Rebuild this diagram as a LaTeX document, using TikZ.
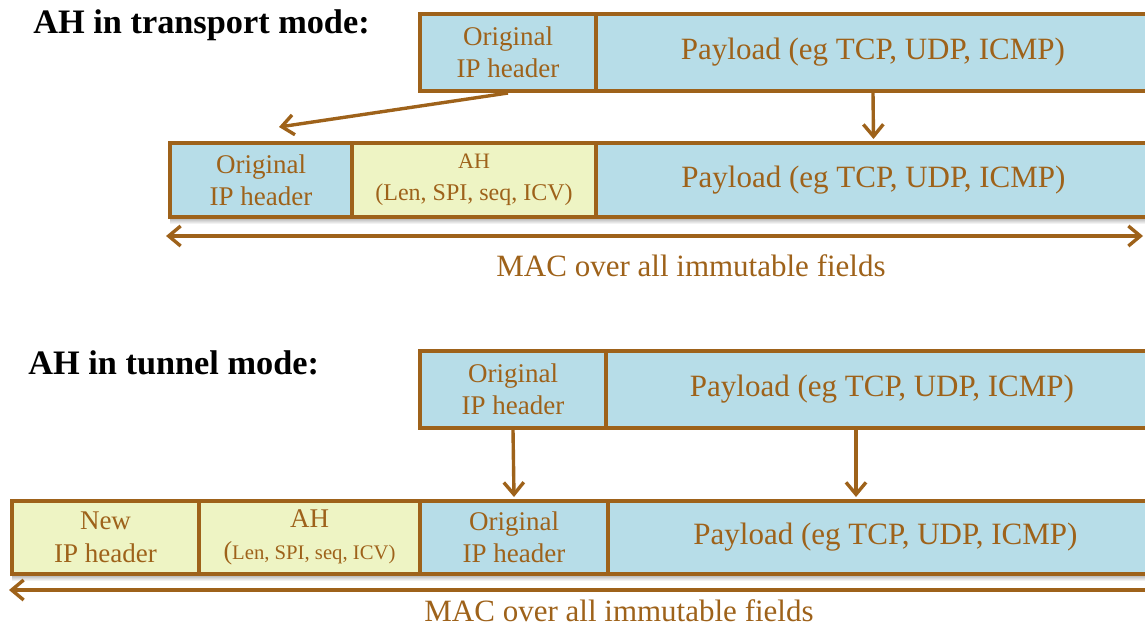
\documentclass[tikz,border=0pt]{standalone}
\usepackage{fontspec}
\setmainfont{Liberation Serif}
\usetikzlibrary{arrows.meta,calc}
\definecolor{brn}{RGB}{158,98,26}
\definecolor{hdrblue}{RGB}{183,221,232}
\definecolor{hdryel}{RGB}{238,244,196}
\tikzset{
  field/.style={draw=brn, line width=2pt, inner sep=0pt, anchor=north west,
    text=brn, align=center, font=\fontsize{13.5}{16}\selectfont},
  bluefield/.style={field, fill=hdrblue},
  yelfield/.style={field, fill=hdryel},
  payload/.style={bluefield, font=\fontsize{15.5}{17}\selectfont},
  barb/.tip={Straight Barb[length=6pt,width=10pt,line width=1.7pt]},
  conn/.style={draw=brn, line width=1.7pt, -barb},
  span/.style={draw=brn, line width=1.6pt, barb-barb},
  spanleft/.style={draw=brn, line width=1.6pt, barb-},
  title/.style={anchor=base west, inner sep=0pt, font=\fontsize{17.15}{19}\selectfont\bfseries},
  maclabel/.style={text=brn, inner sep=0pt, font=\fontsize{15.5}{17}\selectfont},
  rowshadow/.style={top color=black!35, bottom color=white, draw=none}
}
\begin{document}
\begin{tikzpicture}[x=0.5pt,y=-0.5pt]
\useasboundingbox (0,0) rectangle (1145,626);
\clip (0,0) rectangle (1145,626);

% soft shadows under the packet rows
\shade[rowshadow] (170,217) rectangle (1145,224);
\shade[rowshadow] (12,574) rectangle (1145,581);

% ---- transport mode ----
\node[title] (ttitle) at (33,34) {AH in transport mode:};

\node[bluefield, minimum width=88pt, minimum height=38.5pt] (ip1) at (418,12) {Original\\IP header};
\node[payload, minimum width=277pt, minimum height=38.5pt] (pl1) at (594,12) {Payload (eg TCP, UDP, ICMP)};

\node[bluefield, minimum width=91pt, minimum height=37pt] (ip2) at (168,141) {Original\\IP header};
\node[yelfield, minimum width=122pt, minimum height=37pt] (ah2) at (350,141)
  {{\fontsize{11}{15}\selectfont AH}\\{\fontsize{12}{15}\selectfont (Len, SPI, seq, ICV)}};
\node[payload, minimum width=277.5pt, minimum height=37pt] (pl2) at (594,141) {Payload (eg TCP, UDP, ICMP)};

\coordinate (ipdrop) at (279,127);
\draw[conn] (ip1.south) -- (ipdrop);
\draw[conn] (pl1.south) -- ([yshift=1pt]pl2.north);

\coordinate (macAl) at (166,236);
\coordinate (macAr) at (1143,236);
\draw[span] (macAl) -- (macAr);
\node[maclabel] (macA) at (691,266) {MAC over all immutable fields};

% ---- tunnel mode ----
\node[title] (ntitle) at (28,374) {AH in tunnel mode:};

\node[bluefield, minimum width=93pt, minimum height=38.5pt] (ip3) at (418,349) {Original\\IP header};
\node[payload, minimum width=276pt, minimum height=38.5pt] (pl3) at (604,349) {Payload (eg TCP, UDP, ICMP)};

\node[yelfield, minimum width=93.5pt, minimum height=36.5pt, font=\fontsize{13.5}{16.5}\selectfont] (nip4) at (10,499) {New\\IP header};
\node[yelfield, minimum width=110.5pt, minimum height=36.5pt] (ah4) at (197,499)
  {{\fontsize{13.5}{16.5}\selectfont AH}\\{\fontsize{10.35}{16.5}\selectfont{\fontsize{13}{16.5}\selectfont(}Len, SPI, seq, ICV)}};
\node[bluefield, minimum width=94pt, minimum height=36.5pt] (ip4) at (418,499) {Original\\IP header};
\node[payload, minimum width=277.5pt, minimum height=36.5pt] (pl4) at (606,499) {Payload (eg TCP, UDP, ICMP)};

\draw[conn] (ip3.south) -- ([yshift=1pt]ip4.north);
\draw[conn] ([xshift=126pt]pl3.south west) -- ([xshift=125pt,yshift=1pt]pl4.north west);

\coordinate (macBl) at (9,590);
\coordinate (macBr) at (1160,590);
\draw[spanleft] (macBl) -- (macBr);
\node[maclabel] (macB) at (619,611) {MAC over all immutable fields};
\end{tikzpicture}
\end{document}
